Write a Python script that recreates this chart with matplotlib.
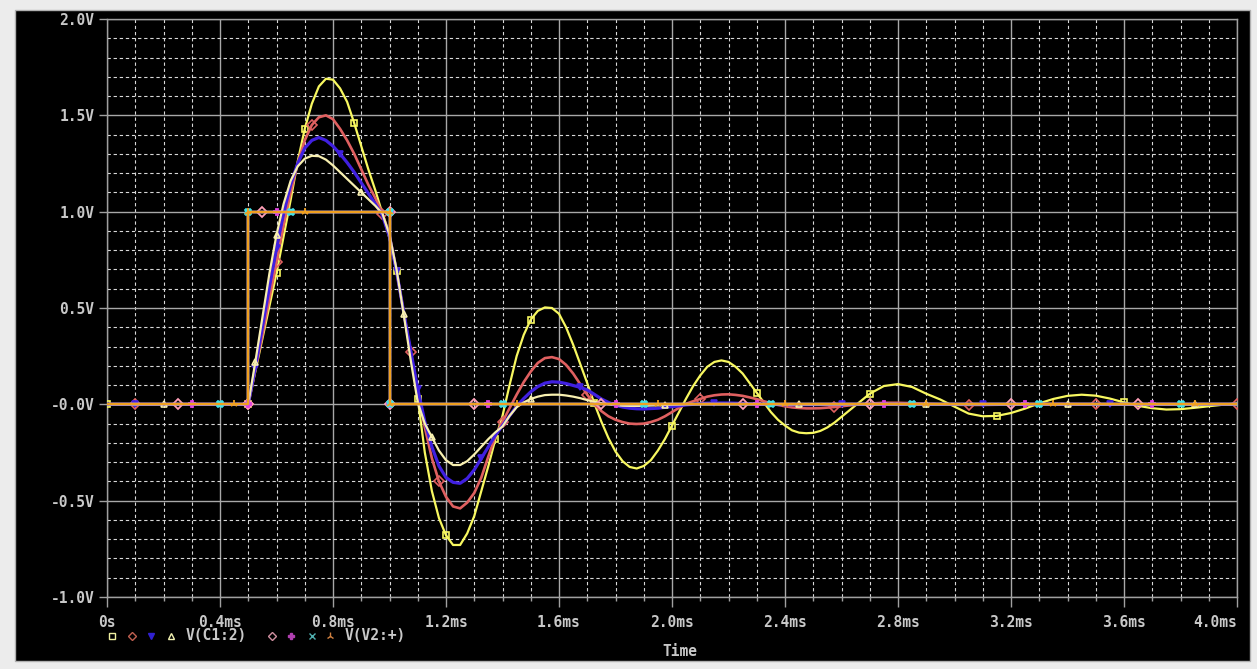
import numpy as np
import matplotlib
matplotlib.use('Agg')
import matplotlib.pyplot as plt
from matplotlib.lines import Line2D
from matplotlib.patches import Rectangle

# time grid (ms) used for the V(C1:2) traces
t_ms = np.round(np.r_[np.arange(0.0, 0.45, 0.1),
                      np.arange(0.5, 2.6125, 0.025),
                      np.arange(2.65, 4.0125, 0.05)], 4)

# V(C1:2), four parametric runs
vc_run1 = [0, 0, 0, 0, 0,
           # 0.5 .. 1.4 ms
           0.0, 0.17, 0.34, 0.51, 0.68, 0.87, 1.06, 1.26, 1.43, 1.56,
           1.65, 1.69, 1.685, 1.64, 1.57, 1.46, 1.34, 1.22, 1.11, 0.99,
           0.86, 0.69, 0.48, 0.27, 0.03, -0.25, -0.45, -0.59, -0.68, -0.73,
           -0.73, -0.67, -0.58, -0.45, -0.32, -0.18, -0.06,
           # 1.425 .. 2.6 ms
           0.10, 0.25, 0.36, 0.44, 0.485, 0.503, 0.50, 0.47,
           0.40, 0.31, 0.21, 0.11, 0.005, -0.09, -0.175, -0.245,
           -0.295, -0.325, -0.333, -0.32, -0.29, -0.24, -0.18, -0.11,
           -0.04, 0.03, 0.095, 0.15, 0.195, 0.22, 0.228, 0.22,
           0.195, 0.16, 0.11, 0.06, 0.01, -0.04, -0.08, -0.11,
           -0.135, -0.147, -0.15, -0.148, -0.138, -0.12, -0.095, -0.065,
           # 2.65 .. 4.0 ms
           -0.005, 0.055, 0.095, 0.105, 0.09, 0.055, 0.025, -0.012, -0.048, -0.062,
           -0.06, -0.045, -0.022, 0.005, 0.028, 0.044, 0.05, 0.045, 0.03, 0.01,
           -0.008, -0.02, -0.027, -0.025, -0.018, -0.01, -0.002, 0.005]
vc_run2 = [0, 0, 0, 0, 0,
           0.0, 0.18, 0.36, 0.55, 0.74, 0.93, 1.10, 1.25, 1.37, 1.45,
           1.49, 1.50, 1.48, 1.43, 1.37, 1.30, 1.22, 1.14, 1.07, 0.99,
           0.88, 0.69, 0.48, 0.27, 0.07, -0.12, -0.28, -0.40, -0.48, -0.53,
           -0.54, -0.51, -0.46, -0.38, -0.27, -0.165, -0.09,
           -0.02, 0.05, 0.115, 0.17, 0.215, 0.24, 0.245, 0.235,
           0.205, 0.16, 0.105, 0.05, 0.0, -0.035, -0.062, -0.08,
           -0.092, -0.10, -0.102, -0.10, -0.092, -0.08, -0.062, -0.04,
           -0.018, 0.003, 0.016, 0.028, 0.04, 0.047, 0.051, 0.052,
           0.049, 0.044, 0.036, 0.027, 0.016, 0.006, -0.003, -0.01,
           -0.016, -0.019, -0.021, -0.021, -0.02, -0.017, -0.014, -0.01,
           -0.002, 0.004, 0.008, 0.008, 0.006, 0.003, 0.0, -0.002, -0.003, -0.003,
           -0.002, -0.001, 0.0, 0.001, 0.001, 0.001, 0, 0, 0, 0,
           0, 0, 0, 0, 0, 0, 0, 0]
vc_run3 = [0, 0, 0, 0, 0,
           0.0, 0.19, 0.40, 0.61, 0.81, 0.99, 1.14, 1.25, 1.33, 1.37,
           1.385, 1.37, 1.34, 1.30, 1.255, 1.205, 1.15, 1.095, 1.04, 0.98,
           0.87, 0.69, 0.48, 0.28, 0.08, -0.09, -0.22, -0.32, -0.38, -0.405,
           -0.41, -0.385, -0.34, -0.28, -0.22, -0.16, -0.11,
           -0.06, -0.01, 0.03, 0.065, 0.092, 0.11, 0.117, 0.115,
           0.108, 0.098, 0.088, 0.075, 0.052, 0.028, 0.01, -0.005,
           -0.014, -0.02, -0.023, -0.024, -0.022, -0.02, -0.016, -0.012,
           -0.008, -0.003, 0.0, 0.004, 0.006, 0.007, 0.007, 0.007,
           0.006, 0.005, 0.003, 0.002, 0.001, 0.0, -0.001, -0.002,
           -0.002, -0.002, -0.002, -0.002, -0.001, -0.001, 0, 0,
           0, 0, 0, 0, 0, 0, 0, 0, 0, 0,
           0, 0, 0, 0, 0, 0, 0, 0, 0, 0,
           0, 0, 0, 0, 0, 0, 0, 0]
vc_run4 = [0, 0, 0, 0, 0,
           0.0, 0.22, 0.45, 0.68, 0.88, 1.04, 1.16, 1.235, 1.275, 1.29,
           1.288, 1.27, 1.24, 1.205, 1.17, 1.135, 1.10, 1.065, 1.03, 0.99,
           0.88, 0.70, 0.47, 0.23, 0.01, -0.10, -0.17, -0.24, -0.29, -0.315,
           -0.315, -0.295, -0.26, -0.22, -0.18, -0.145, -0.115,
           -0.06, -0.015, 0.01, 0.028, 0.04, 0.048, 0.05, 0.05,
           0.046, 0.04, 0.032, 0.022, 0.013, 0.006, 0.0, -0.004,
           -0.007, -0.008, -0.008, -0.008, -0.006, -0.005, -0.003, -0.002,
           -0.001, 0, 0, 0, 0, 0, 0, 0,
           0, 0, 0, 0, 0, 0, 0, 0,
           0, 0, 0, 0, 0, 0, 0, 0,
           0, 0, 0, 0, 0, 0, 0, 0, 0, 0,
           0, 0, 0, 0, 0, 0, 0, 0, 0, 0,
           0, 0, 0, 0, 0, 0, 0, 0]

# V(V2:+) source pulse: 0 V, 1 V between 0.5 ms and 1.0 ms, then 0 V
pulse_t = np.round(np.r_[np.arange(0.0, 0.525, 0.05),
                         np.arange(0.5, 1.025, 0.05),
                         np.arange(1.0, 4.025, 0.05)], 4)
pulse_v = [0.0] * 11 + [1.0] * 11 + [0.0] * 61

x_ticks = [0.0, 0.4, 0.8, 1.2, 1.6, 2.0, 2.4, 2.8, 3.2, 3.6, 4.0]
x_labels = ['0s', '0.4ms', '0.8ms', '1.2ms', '1.6ms', '2.0ms', '2.4ms',
            '2.8ms', '3.2ms', '3.6ms', '4.0ms']
y_ticks = [2.0, 1.5, 1.0, 0.5, 0.0, -0.5, -1.0]
y_labels = ['2.0V', '1.5V', '1.0V', '0.5V', '-0.0V', '-0.5V', '-1.0V']

TXT = '#c8c8c8'
FONT = dict(family='DejaVu Sans Mono', weight='bold', size=10.5, color=TXT)

fig = plt.figure(figsize=(12.57, 6.69), dpi=100, facecolor='#ececec')
fig.add_artist(Rectangle((15 / 1257, 1 - 661 / 669), 1235 / 1257, 651 / 669,
                         transform=fig.transFigure, facecolor='black',
                         edgecolor='#b0b0b0', lw=1, zorder=0))

ax = fig.add_axes([107 / 1257, 1 - 597 / 669, 1130 / 1257, 578 / 669])
ax.set_facecolor('black')
ax.set_xlim(0, 4.0)
ax.set_ylim(-1.0, 2.0)

ax.set_xticks(x_ticks)
ax.set_xticklabels(x_labels, **FONT)
ax.set_xticks(np.arange(0, 4.01, 0.1), minor=True)
ax.set_yticks(y_ticks)
ax.set_yticklabels(y_labels, **FONT)
ax.set_yticks(np.arange(-1.0, 2.01, 0.1), minor=True)
ax.xaxis.get_ticklabels()[-1].set_ha('right')

ax.tick_params(axis='x', which='major', length=7, width=1, color='#a0a0a0', pad=6)
ax.tick_params(axis='x', which='minor', length=3, width=1, color='#a0a0a0')
ax.tick_params(axis='y', which='major', length=6, width=1, color='#a0a0a0', pad=3)
ax.tick_params(axis='y', which='minor', length=0)

ax.grid(True, which='major', color='#a8a8a8', lw=1.0, ls='-')
ax.grid(True, which='minor', color='#d8d8d8', lw=0.8, ls=(0, (3, 2.5)))
ax.set_axisbelow(True)
for sp in ax.spines.values():
    sp.set_color('#a0a0a0')
    sp.set_linewidth(1)

step = 0.106
runs = [
    (vc_run1, '#f8f860', 's', 'none', 0.005, 1.6),
    (vc_run2, '#e06060', 'D', 'none', 0.019, 1.9),
    (vc_run3, '#4020e0', 'v', '#4020e0', 0.033, 2.3),
    (vc_run4, '#f8f0b0', '^', 'none', 0.046, 1.6),
]
for vals, col, mk, fc, off, lw in runs:
    ax.plot(t_ms, vals, color=col, lw=lw, marker=mk, ms=5, mfc=fc, mec=col,
            mew=1.2, markevery=(off, step), zorder=3)

pulses = [
    ('#ff9fb8', 'D', 0.059),
    ('#e040e0', 'P', 0.072),
    ('#40e0e8', 'X', 0.086),
    ('#f0a020', '2', 0.099),
]
for col, mk, off in pulses:
    ax.plot(pulse_t, pulse_v, color=col, lw=1.7, marker=mk, ms=6 if mk == '2' else 5,
            mfc='none' if mk == 'D' else col, mec=col, mew=1.3,
            markevery=(off, step), zorder=4)

# legend below the axis
ly = 1 - 636 / 669
leg = [(112, 's', '#f0f0a0', 'none'), (132, 'D', '#c06050', 'none'),
       (151, 'v', '#3020d0', '#3020d0'), (171, '^', '#f0f0b0', 'none')]
for x, mk, col, fc in leg:
    fig.add_artist(Line2D([x / 1257], [ly], transform=fig.transFigure, marker=mk,
                          ms=4, mec=col, mfc=fc, mew=1, ls='none'))
fig.text(186 / 1257, ly, 'V(C1:2)', va='center', ha='left', **FONT)
leg2 = [(272, 'D', '#d090a0', 'none'), (291, 'P', '#b040b0', '#b040b0'),
        (312, 'x', '#50b0b0', '#50b0b0'), (330, '2', '#d08040', '#d08040')]
for x, mk, col, fc in leg2:
    fig.add_artist(Line2D([x / 1257], [ly], transform=fig.transFigure, marker=mk,
                          ms=4 if mk != '2' else 6, mec=col, mfc=fc, mew=1, ls='none'))
fig.text(345 / 1257, ly, 'V(V2:+)', va='center', ha='left', **FONT)
fig.text(680 / 1257, 1 - 652 / 669, 'Time', va='center', ha='center', **FONT)

fig.savefig('out.png', dpi=100, facecolor=fig.get_facecolor())
